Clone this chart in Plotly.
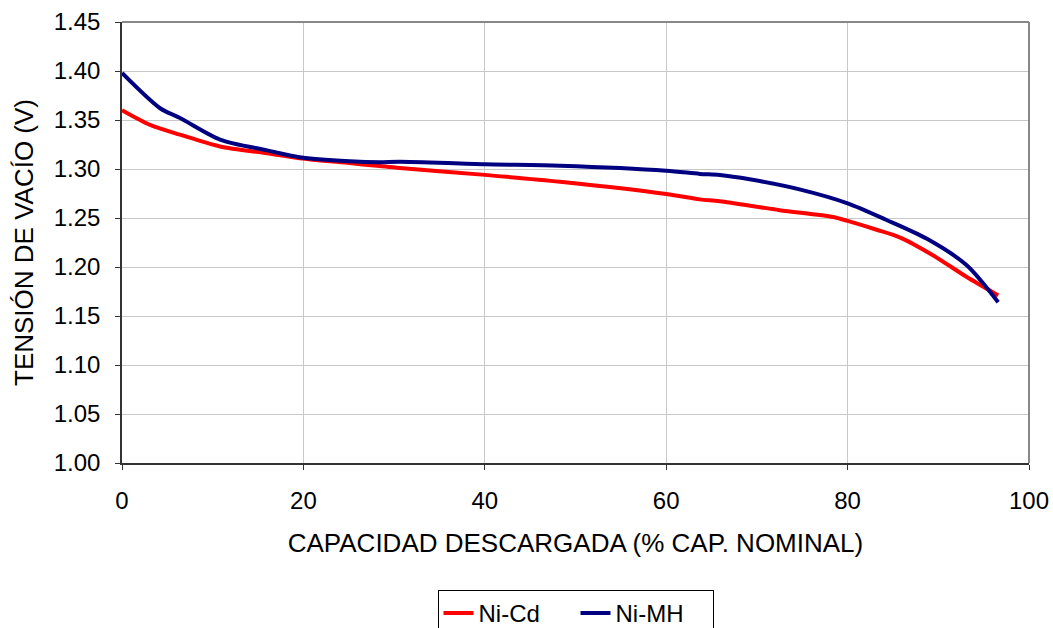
import plotly.graph_objects as go

x_nicd = [0, 3.1, 6.4, 10.8, 16, 19.6, 25.1, 28.4, 30.6, 40, 48.3, 60, 63.7, 65.9, 72.5, 78.4, 80, 83.2, 85.8, 89.4, 93.1, 96.6]
y_nicd = [1.360, 1.345, 1.335, 1.323, 1.316, 1.311, 1.306, 1.303, 1.301, 1.294, 1.287, 1.2745, 1.269, 1.267, 1.258, 1.251, 1.247, 1.238, 1.230, 1.212, 1.190, 1.171]

x_nimh = [0, 4.2, 6.4, 10.8, 16, 19.6, 25.1, 28.4, 30.6, 40, 48.3, 60, 63.7, 65.9, 69.2, 74.8, 80, 84.3, 88.7, 93.1, 96.6]
y_nimh = [1.398, 1.362, 1.352, 1.330, 1.319, 1.312, 1.308, 1.307, 1.3075, 1.3048, 1.3034, 1.2983, 1.295, 1.2939, 1.2895, 1.279, 1.265, 1.248, 1.229, 1.202, 1.164]

x_ticks = [0, 20, 40, 60, 80, 100]
y_ticks = [1.00, 1.05, 1.10, 1.15, 1.20, 1.25, 1.30, 1.35, 1.40, 1.45]

FONT = "Liberation Sans, Arial, sans-serif"

fig = go.Figure()
fig.add_trace(go.Scatter(x=x_nicd, y=y_nicd, mode="lines", name="Ni-Cd",
                         line=dict(color="#FF0000", width=4, shape="spline", smoothing=0.8)))
fig.add_trace(go.Scatter(x=x_nimh, y=y_nimh, mode="lines", name="Ni-MH",
                         line=dict(color="#000080", width=4, shape="spline", smoothing=0.8)))

fig.update_layout(
    width=1053, height=628,
    margin=dict(l=122, r=24, t=22, b=165),
    paper_bgcolor="white", plot_bgcolor="white",
    font=dict(family=FONT, size=22, color="black"),
    showlegend=True,
    legend=dict(orientation="h", x=0.5, xanchor="center", xref="paper",
                y=(628 - 590) / 628, yanchor="top", yref="container",
                bordercolor="black", borderwidth=1, font=dict(size=24),
                entrywidth=92, tracegroupgap=0),
    xaxis=dict(range=[0, 100], tickvals=x_ticks, showgrid=True, gridcolor="#C8C8C8", gridwidth=1,
               showline=True, linecolor="#333333", linewidth=1.5, ticks="outside", ticklen=5,
               tickcolor="#333333", zeroline=False, ticklabelstandoff=10, automargin=False,
               tickfont=dict(size=24),
               title=dict(text="CAPACIDAD DESCARGADA (% CAP. NOMINAL)", standoff=21)),
    yaxis=dict(range=[1.00, 1.45], tickvals=y_ticks, tickformat=".2f", showgrid=True,
               gridcolor="#C8C8C8", gridwidth=1,
               showline=True, linecolor="#333333", linewidth=1.5, ticks="outside", ticklen=5,
               tickcolor="#333333", zeroline=False, ticklabelstandoff=10, automargin=False,
               tickfont=dict(size=24),
               title=dict(text="TENSIÓN DE VACÍO (V)", standoff=13)),
)

fig.add_shape(type="line", xref="paper", yref="paper", x0=0, x1=1, y0=1, y1=1,
              line=dict(color="#888888", width=2))
fig.add_shape(type="line", xref="paper", yref="paper", x0=1, x1=1, y0=0, y1=1,
              line=dict(color="#888888", width=2))

fig.write_html("out.html")
